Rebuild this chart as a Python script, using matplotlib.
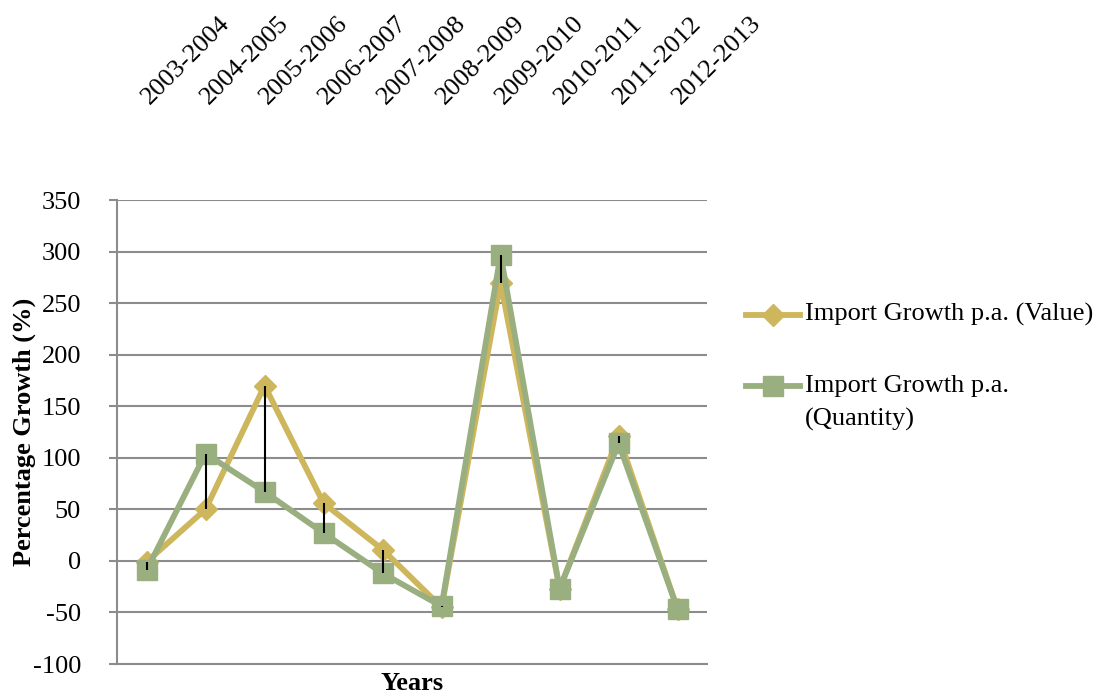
import matplotlib
matplotlib.use("Agg")
import matplotlib.pyplot as plt
from matplotlib.lines import Line2D
from matplotlib.transforms import ScaledTranslation
import numpy as np

# data
years = ["2003-2004", "2004-2005", "2005-2006", "2006-2007", "2007-2008",
         "2008-2009", "2009-2010", "2010-2011", "2011-2012", "2012-2013"]
value_growth = [-1, 50, 170, 56, 11, -45, 270, -27, 121, -47]
quantity_growth = [-9, 104, 67, 27, -12, -44, 297, -27, 114, -47]
series_names = ["Import Growth p.a. (Value)", "Import Growth p.a.\n(Quantity)"]
yticks = [-100, -50, 0, 50, 100, 150, 200, 250, 300, 350]

gold = "#CDB65C"
green = "#9AAF7F"
grey = "#8C8C8C"
fs = 19

plt.rcParams["font.family"] = ["Liberation Serif", "DejaVu Serif"]

fig = plt.figure(figsize=(10.98, 6.95), dpi=100)
ax = fig.add_axes([0.1066, 0.0446, 0.5374, 0.6676])

x = np.arange(len(years))
ax.plot(x, value_growth, color=gold, lw=4.2, marker="D", ms=11, zorder=3)
ax.plot(x, quantity_growth, color=green, lw=4.2, marker="s", ms=14.5, zorder=4)

# high-low lines between the two series
lo = np.minimum(value_growth, quantity_growth)
hi = np.maximum(value_growth, quantity_growth)
ax.vlines(x, lo, hi, color="black", lw=1.5, zorder=5)

ax.set_xlim(-0.5, len(years) - 0.5)
ax.set_ylim(-100, 350)
ax.set_yticks(yticks)
ax.set_yticklabels([str(t) for t in yticks], fontsize=fs)
ax.yaxis.grid(True, color=grey, lw=1.5)
ax.set_axisbelow(True)

ax.xaxis.tick_top()
ax.set_xticks(x)
ax.set_xticklabels(years, fontsize=fs, rotation=45, ha="left", va="bottom",
                   rotation_mode="anchor")
ax.tick_params(axis="x", length=0, pad=66)
shift = ScaledTranslation(0.07, 0, fig.dpi_scale_trans)
for lab in ax.get_xticklabels():
    lab.set_transform(lab.get_transform() + shift)
ax.tick_params(axis="y", length=6, width=1.5, color=grey, pad=20)

for s in ["top", "right"]:
    ax.spines[s].set_visible(False)
for s in ["left", "bottom"]:
    ax.spines[s].set_color(grey)
    ax.spines[s].set_linewidth(1.5)

ax.set_ylabel("Percentage Growth (%)", fontsize=fs, fontweight="bold")
ax.yaxis.set_label_coords(-0.138, 0.5)
fig.text(0.375, 0.017, "Years", fontsize=fs, fontweight="bold", ha="center", va="center")

# legend, handle aligned with the first text line
legend_rows = [(0.547, gold, "D", 11), (0.444, green, "s", 14.5)]
for (ly, col, mk, ms), name in zip(legend_rows, series_names):
    fig.add_artist(Line2D([0.679, 0.704, 0.729], [ly, ly, ly], color=col, lw=4.2,
                          marker=mk, ms=ms, markevery=[1], transform=fig.transFigure))
    for i, line in enumerate(name.split("\n")):
        fig.text(0.733, ly - i * 0.047, line, fontsize=fs, ha="left", va="center")

fig.savefig("out.png", dpi=100)
